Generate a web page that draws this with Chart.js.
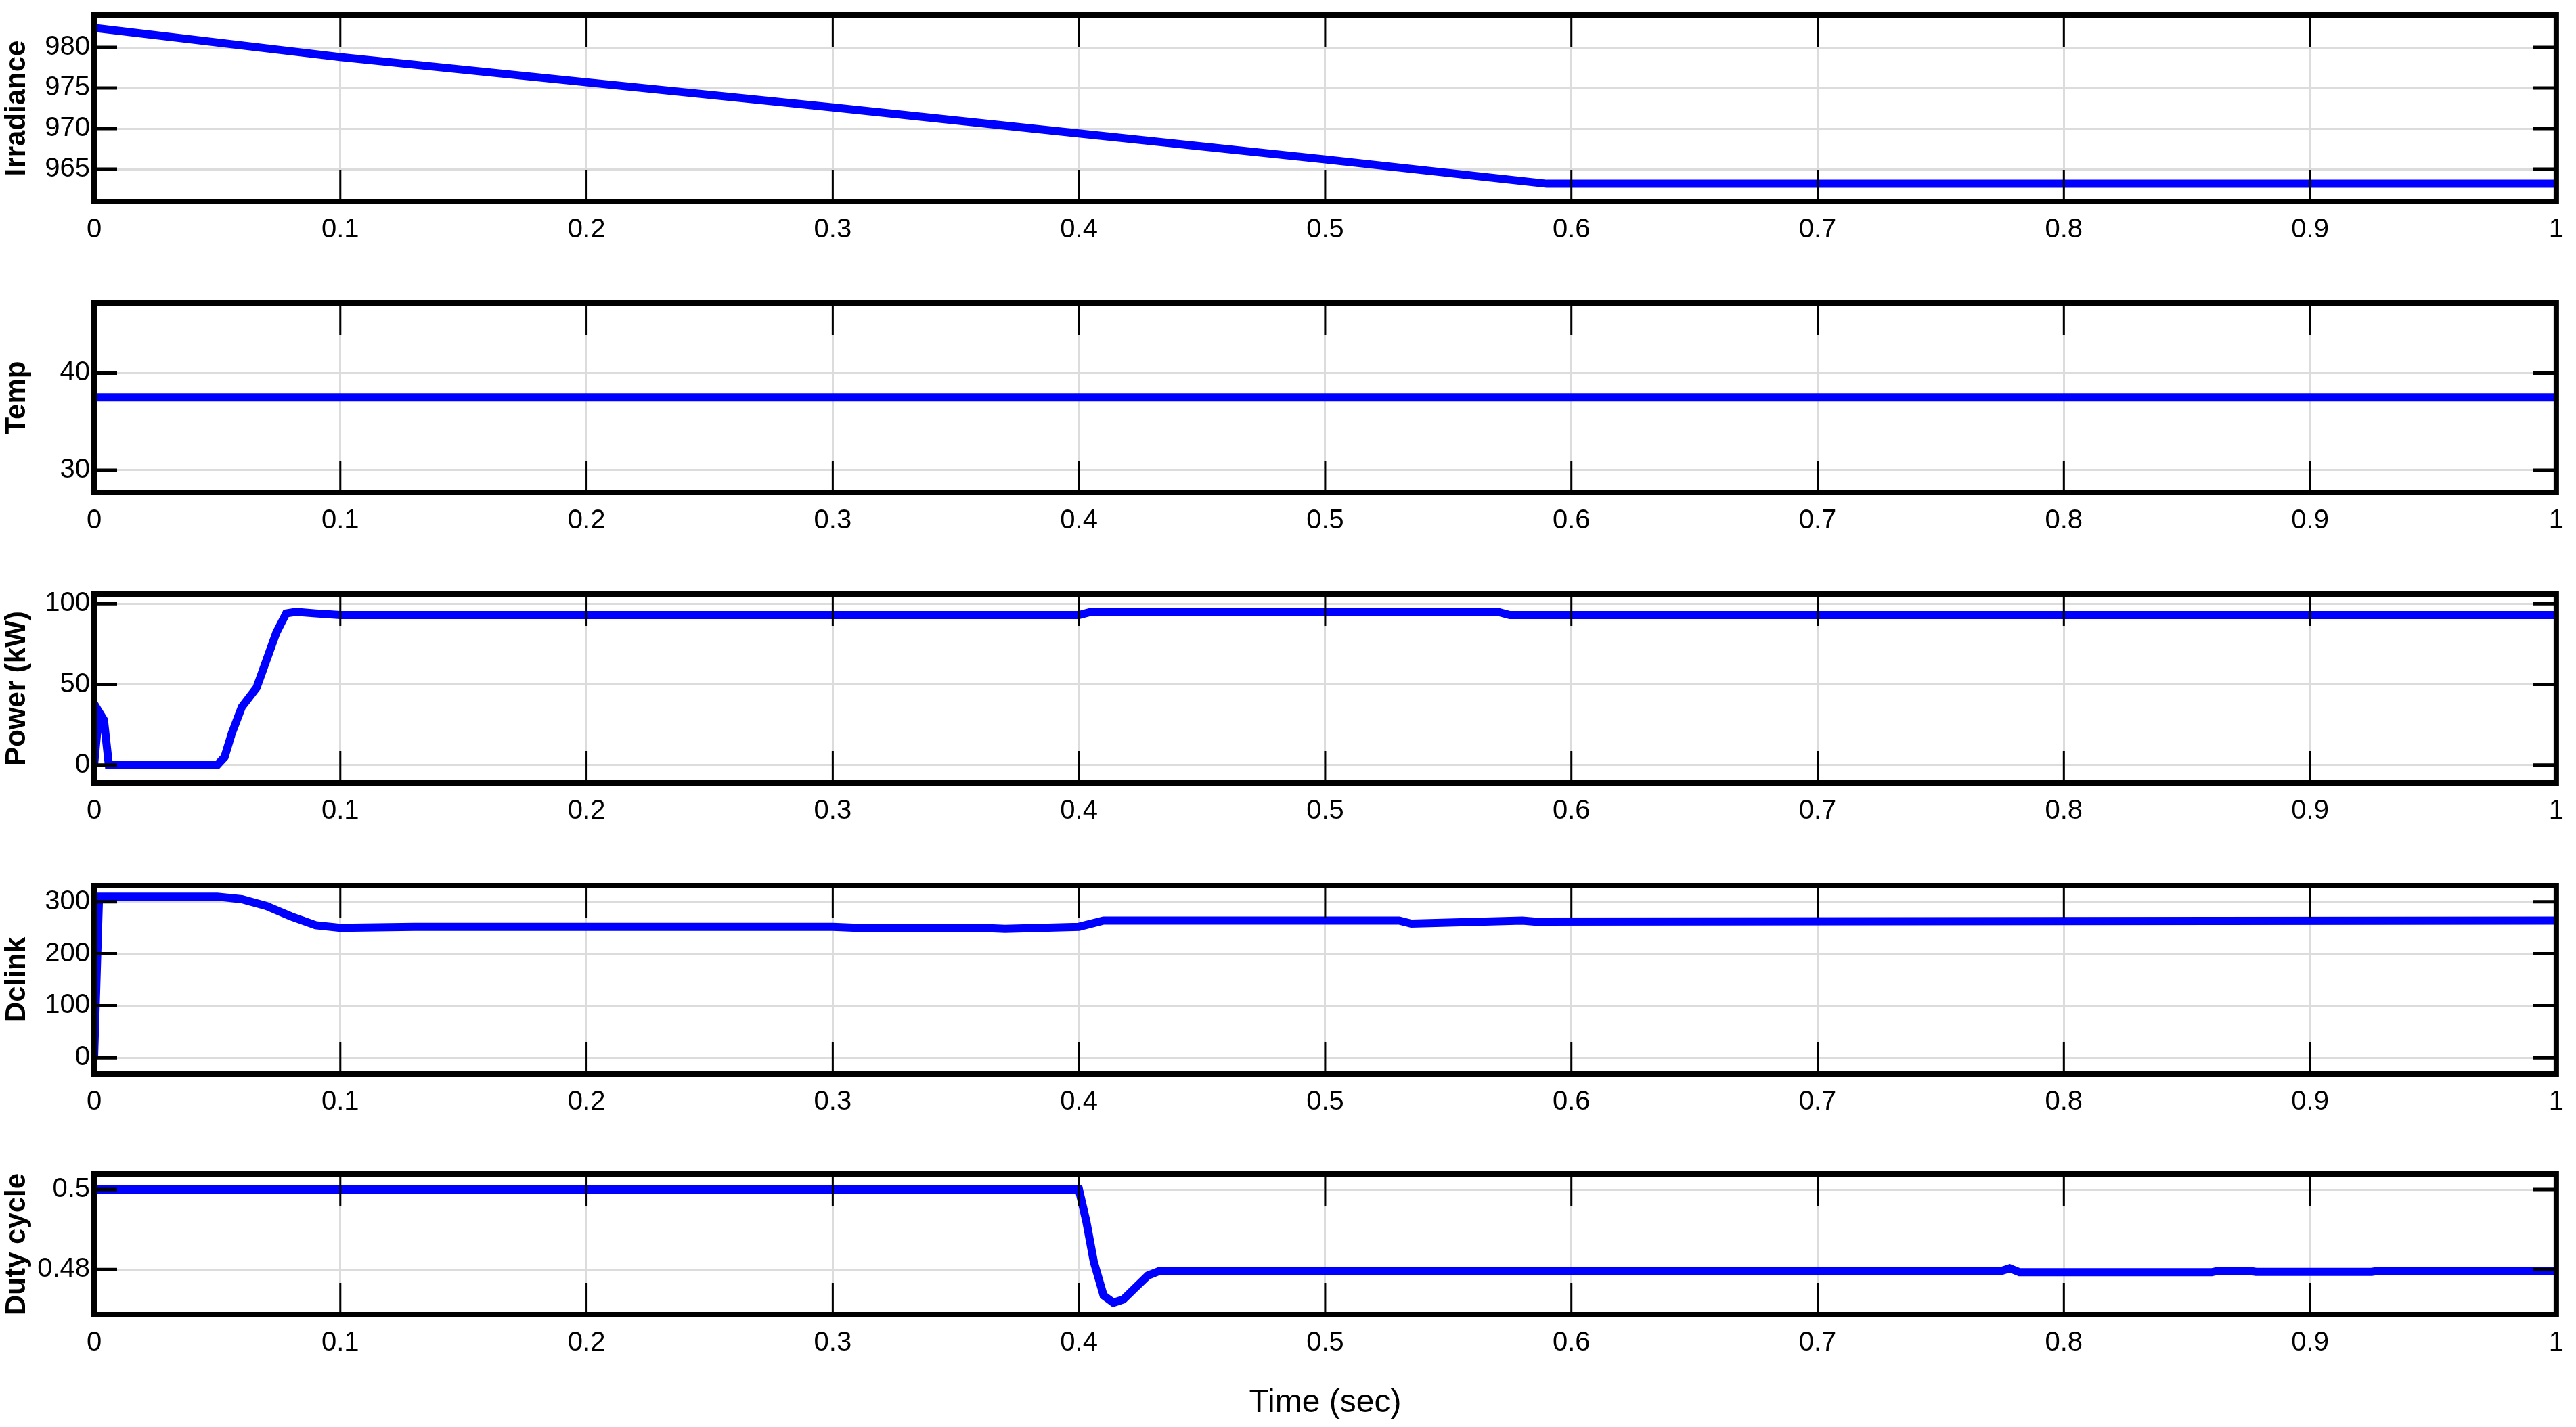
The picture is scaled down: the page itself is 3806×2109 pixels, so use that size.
<!DOCTYPE html>
<html>
<head>
<meta charset="utf-8">
<script src="https://cdn.jsdelivr.net/npm/chart.js@4"></script>
<style>
  body { margin: 0; background: #fff; width: 3806px; height: 2109px; overflow: hidden; }
  .panel { position: absolute; left: 0; width: 3806px; }
</style>
</head>
<body>
<div id="wrap"></div>
<script>
// Time ticks (shared)
const timeTicks = [0, 0.1, 0.2, 0.3, 0.4, 0.5, 0.6, 0.7, 0.8, 0.9, 1];

// Irradiance
const irrTime = [0, 0.1, 0.2, 0.3, 0.4, 0.5, 0.59, 1];
const irrValues = [982.4, 978.8, 975.7, 972.6, 969.4, 966.2, 963.2, 963.2];
const irrTicks = [965, 970, 975, 980];

// Temperature
const tempTime = [0, 1];
const tempValues = [37.5, 37.5];
const tempTicks = [30, 40];

// Power (kW)
const powTime = [0, 0.002, 0.004, 0.006, 0.05, 0.053, 0.056, 0.06, 0.063, 0.066, 0.07, 0.074, 0.078, 0.082, 0.09, 0.1, 0.4, 0.405, 0.57, 0.575, 1];
const powValues = [0, 33, 28, 0, 0, 5, 20, 36, 42, 48, 65, 82, 94, 95, 94, 93, 93, 95, 95, 93, 93];
const powTicks = [0, 50, 100];

// DC link voltage
const dcTime = [0, 0.002, 0.05, 0.06, 0.07, 0.08, 0.09, 0.1, 0.13, 0.3, 0.31, 0.36, 0.37, 0.4, 0.41, 0.53, 0.535, 0.58, 0.585, 1];
const dcValues = [0, 310, 310, 305, 292, 272, 255, 250, 252, 252, 250, 250, 248, 252, 264, 264, 258, 264, 262, 264];
const dcTicks = [0, 100, 200, 300];

// Duty cycle
const dutyTime = [0, 0.4, 0.403, 0.406, 0.41, 0.414, 0.418, 0.423, 0.428, 0.433, 0.775, 0.778, 0.782, 0.86, 0.863, 0.875, 0.878, 0.925, 0.928, 1];
const dutyValues = [0.5, 0.5, 0.492, 0.482, 0.4735, 0.4717, 0.4725, 0.4755, 0.4785, 0.4797, 0.4797, 0.4803, 0.4793, 0.4793, 0.4797, 0.4797, 0.4794, 0.4794, 0.4797, 0.4797];
const dutyTicks = [0.48, 0.5];

const panels = [
  { title: 'Irradiance', t: irrTime, v: irrValues, ticks: irrTicks, min: 961, max: 984, top: 20, bottom: 298 },
  { title: 'Temp', t: tempTime, v: tempValues, ticks: tempTicks, min: 27.7, max: 47.2, top: 446, bottom: 728 },
  { title: 'Power (kW)', t: powTime, v: powValues, ticks: powTicks, min: -11, max: 106, top: 876, bottom: 1157 },
  { title: 'Dclink', t: dcTime, v: dcValues, ticks: dcTicks, min: -31, max: 331, top: 1307, bottom: 1587 },
  { title: 'Duty cycle', t: dutyTime, v: dutyValues, ticks: dutyTicks, min: 0.4687, max: 0.5039, top: 1733, bottom: 1943, xlabel: 'Time (sec)' }
];

const tickFont = { family: '"Liberation Sans Narrow", "Liberation Sans", Arial, sans-serif', size: 40 };

// black inner tick marks and box, MATLAB style
const innerTicks = {
  id: 'innerTicks',
  afterDraw(chart) {
    const { ctx, chartArea: a, scales } = chart;
    ctx.save();
    ctx.strokeStyle = '#000';
    ctx.lineWidth = 3;
    scales.x.ticks.forEach(t => {
      const x = scales.x.getPixelForValue(t.value);
      ctx.beginPath();
      ctx.moveTo(x, a.top); ctx.lineTo(x, a.top + 47);
      ctx.moveTo(x, a.bottom); ctx.lineTo(x, a.bottom - 47);
      ctx.stroke();
    });
    ctx.lineWidth = 5;
    scales.y.ticks.forEach(t => {
      const y = scales.y.getPixelForValue(t.value);
      ctx.beginPath();
      ctx.moveTo(a.left, y); ctx.lineTo(a.left + 34, y);
      ctx.moveTo(a.right, y); ctx.lineTo(a.right - 34, y);
      ctx.stroke();
    });
    ctx.lineWidth = 8;
    ctx.strokeRect(a.left, a.top, a.right - a.left, a.bottom - a.top);
    ctx.restore();
  }
};

const wrap = document.getElementById('wrap');
panels.forEach(p => {
  const xAxisH = p.xlabel ? 160 : 110;
  const div = document.createElement('div');
  div.className = 'panel';
  div.style.top = (p.top - 28) + 'px';
  div.style.height = (p.bottom - p.top + 28 + xAxisH) + 'px';
  const canvas = document.createElement('canvas');
  div.appendChild(canvas);
  wrap.appendChild(div);

  new Chart(canvas, {
    type: 'line',
    data: {
      datasets: [{
        data: p.t.map((t, i) => ({ x: t, y: p.v[i] })),
        borderColor: '#0000ff',
        borderWidth: 12,
        pointRadius: 0,
        tension: 0,
        borderJoinStyle: 'miter'
      }]
    },
    options: {
      responsive: true,
      maintainAspectRatio: false,
      animation: false,
      layout: { padding: { top: 6, right: 22, left: 0, bottom: 0 } },
      plugins: { legend: { display: false }, tooltip: { enabled: false } },
      scales: {
        x: {
          type: 'linear', min: 0, max: 1,
          afterBuildTicks: s => { s.ticks = timeTicks.map(v => ({ value: v })); },
          afterFit: s => { s.height = xAxisH; },
          grid: { color: '#dcdcdc', lineWidth: 3, drawTicks: false },
          border: { display: false },
          ticks: { color: '#000', font: tickFont, padding: 18, maxRotation: 0, callback: v => String(v) },
          title: p.xlabel ? { display: true, text: p.xlabel, color: '#000', font: { ...tickFont, size: 48 }, padding: 0 } : { display: false }
        },
        y: {
          min: p.min, max: p.max,
          afterBuildTicks: s => { s.ticks = p.ticks.map(v => ({ value: v })); },
          afterFit: s => { s.width = 139; },
          grid: { color: '#dcdcdc', lineWidth: 3, drawTicks: false },
          border: { display: false },
          ticks: { color: '#000', font: tickFont, padding: 6, callback: v => String(v) },
          title: { display: true, text: p.title, color: '#000', font: { family: '"Liberation Sans", Arial, sans-serif', size: 42, weight: 'bold' }, padding: 0 }
        }
      }
    },
    plugins: [innerTicks]
  });
});
</script>
</body>
</html>
